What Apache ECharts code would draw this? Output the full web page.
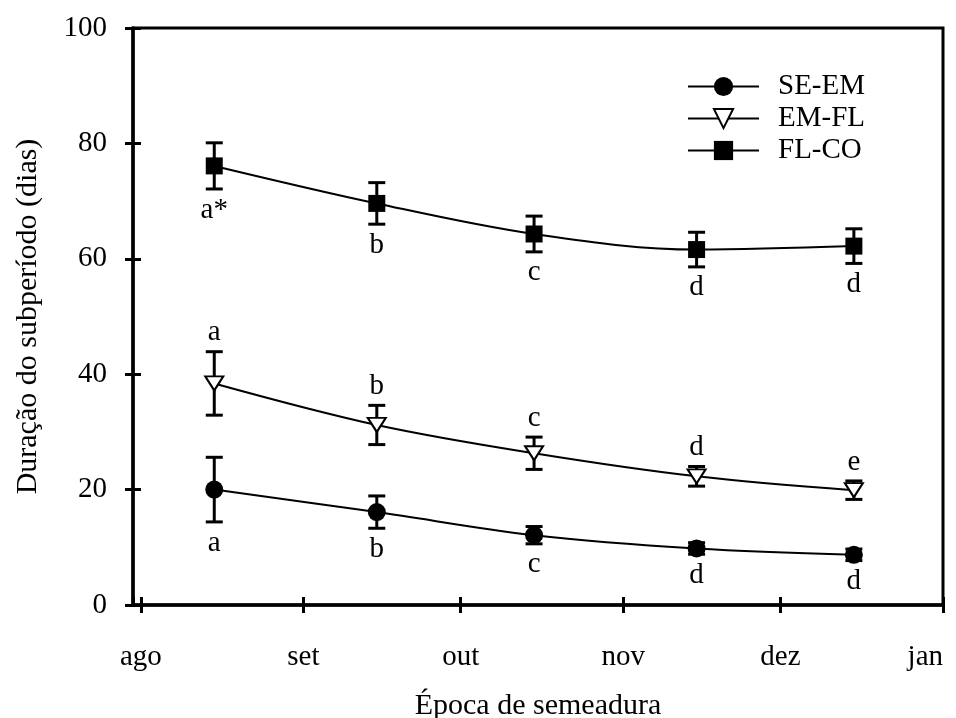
<!DOCTYPE html>
<html>
<head>
<meta charset="utf-8">
<script src="https://cdn.jsdelivr.net/npm/echarts@6/dist/echarts.min.js"></script>
<style>
  html, body { margin: 0; padding: 0; background: #fff; }
  #chart { width: 956px; height: 718px; }
</style>
</head>
<body>
<div id="chart"></div>
<script>
// Datas de semeadura (dia 15 de cada mês)
const sowingDates = ['2000-08-15', '2000-09-15', '2000-10-15', '2000-11-15', '2000-12-15'];
const monthLabels = ['jan', 'fev', 'mar', 'abr', 'mai', 'jun', 'jul', 'ago', 'set', 'out', 'nov', 'dez'];

// Duração dos subperíodos (dias) e erro
const seEm = [20.0, 16.1, 12.1, 9.8, 8.7];
const seEmErr = [5.6, 2.8, 1.5, 1.0, 1.0];
const seEmLetters = ['a', 'b', 'c', 'd', 'd'];

const emFl = [38.4, 31.2, 26.3, 22.3, 19.9];
const emFlErr = [5.5, 3.4, 2.8, 1.7, 1.6];
const emFlLetters = ['a', 'b', 'c', 'd', 'e'];

const flCo = [76.1, 69.6, 64.3, 61.6, 62.2];
const flCoErr = [4.0, 3.6, 3.1, 3.0, 3.0];
const flCoLetters = ['a*', 'b', 'c', 'd', 'd'];

const FONT = 'Liberation Serif';

document.addEventListener('DOMContentLoaded', () => {
    var chart = echarts.init(document.getElementById('chart'));

    const xs = sowingDates.map(d => Date.parse(d));

    function lineData(vals) {
        return vals.map((v, i) => [xs[i], v]);
    }

    // barras de erro + letras de significância
    function errorBars(vals, errs, letters, side) {
        return {
            type: 'custom',
            silent: true,
            z: 1,
            data: vals.map((v, i) => [xs[i], v - errs[i], v + errs[i]]),
            renderItem: (params, api) => {
                const hi = api.coord([api.value(0), api.value(2)]);
                const lo = api.coord([api.value(0), api.value(1)]);
                const cap = 8.5;
                const ty = side === 'top' ? hi[1] - 19 : lo[1] + 21;
                const st = { stroke: '#000', lineWidth: 3 };
                return {
                    type: 'group',
                    children: [
                        { type: 'line', shape: { x1: hi[0], y1: hi[1], x2: lo[0], y2: lo[1] }, style: st },
                        { type: 'line', shape: { x1: hi[0] - cap, y1: hi[1], x2: hi[0] + cap, y2: hi[1] }, style: st },
                        { type: 'line', shape: { x1: lo[0] - cap, y1: lo[1], x2: lo[0] + cap, y2: lo[1] }, style: st },
                        {
                            type: 'text',
                            x: hi[0], y: ty,
                            style: {
                                text: letters[params.dataIndex],
                                font: '29px "' + FONT + '"',
                                fill: '#000',
                                align: 'center',
                                verticalAlign: 'middle'
                            }
                        }
                    ]
                };
            }
        };
    }

    const xMin = Date.UTC(2000, 6, 30, 12);
    const xMax = Date.UTC(2001, 0, 1);

    const option = {
        useUTC: true,
        animation: false,
        textStyle: { fontFamily: FONT, color: '#000' },
        grid: {
            left: 133, right: 13, top: 28, bottom: 113,
            outerBoundsMode: 'none',
            containLabel: false,
            show: true, borderColor: '#000', borderWidth: 3
        },
        legend: {
            orient: 'vertical',
            left: 687,
            top: 72,
            padding: 0,
            itemGap: 3,
            itemWidth: 71,
            itemHeight: 24,
            textStyle: { fontFamily: FONT, fontSize: 29, color: '#000', padding: [0, 0, 0, 14] },
            data: ['SE-EM', 'EM-FL', 'FL-CO']
        },
        xAxis: [{
            type: 'time',
            min: xMin,
            max: xMax,
            name: 'Época de semeadura',
            nameLocation: 'middle',
            nameGap: 86,
            nameTextStyle: { fontFamily: FONT, fontSize: 30, color: '#000' },
            axisLine: { lineStyle: { color: '#000', width: 3.5 } },
            axisTick: { show: true, length: 8, lineStyle: { color: '#000', width: 3 } },
            splitLine: { show: false },
            axisLabel: {
                margin: 38,
                showMaxLabel: true,
                alignMaxLabel: 'right',
                fontFamily: FONT, fontSize: 29, color: '#000',
                formatter: v => {
                    const d = new Date(v);
                    return d.getUTCDate() === 1 ? monthLabels[d.getUTCMonth()] : '';
                }
            }
        }, {
            type: 'time',
            position: 'bottom',
            min: xMin,
            max: xMax,
            axisLine: { show: false },
            axisTick: { show: true, inside: true, length: 8, lineStyle: { color: '#000', width: 3 } },
            axisLabel: { show: false },
            splitLine: { show: false }
        }],
        yAxis: [{
            type: 'value',
            min: 0,
            max: 100,
            interval: 20,
            name: 'Duração do subperíodo (dias)',
            nameLocation: 'middle',
            nameGap: 90,
            nameTextStyle: { fontFamily: FONT, fontSize: 30, color: '#000' },
            axisLine: { show: true, lineStyle: { color: '#000', width: 3.5 } },
            axisTick: { show: true, length: 8, lineStyle: { color: '#000', width: 3 } },
            splitLine: { show: false },
            axisLabel: { margin: 26, fontFamily: FONT, fontSize: 29, color: '#000' }
        }, {
            type: 'value',
            position: 'left',
            min: 0,
            max: 100,
            interval: 20,
            axisLine: { show: false },
            axisTick: { show: true, inside: true, length: 8, lineStyle: { color: '#000', width: 3 } },
            axisLabel: { show: false },
            splitLine: { show: false }
        }],
        series: [
            errorBars(seEm, seEmErr, seEmLetters, 'bottom'),
            errorBars(emFl, emFlErr, emFlLetters, 'top'),
            errorBars(flCo, flCoErr, flCoLetters, 'bottom'),
            {
                name: 'SE-EM',
                type: 'line',
                smooth: 0.35,
                data: lineData(seEm),
                symbol: 'circle',
                symbolSize: 18,
                itemStyle: { color: '#000' },
                lineStyle: { color: '#000', width: 2 },
                z: 3
            },
            {
                name: 'EM-FL',
                type: 'line',
                smooth: 0.35,
                data: lineData(emFl),
                symbol: 'path://M0,0 L20,0 L10,15 Z',
                symbolSize: [18, 14],
                itemStyle: { color: '#fff', borderColor: '#000', borderWidth: 2 },
                lineStyle: { color: '#000', width: 2 },
                z: 3
            },
            {
                name: 'FL-CO',
                type: 'line',
                smooth: 0.35,
                data: lineData(flCo),
                symbol: 'rect',
                symbolSize: 17,
                itemStyle: { color: '#000' },
                lineStyle: { color: '#000', width: 2 },
                z: 3
            }
        ]
    };

    chart.setOption(option);
    window.addEventListener('resize', () => chart.resize());
});
</script>
</body>
</html>
